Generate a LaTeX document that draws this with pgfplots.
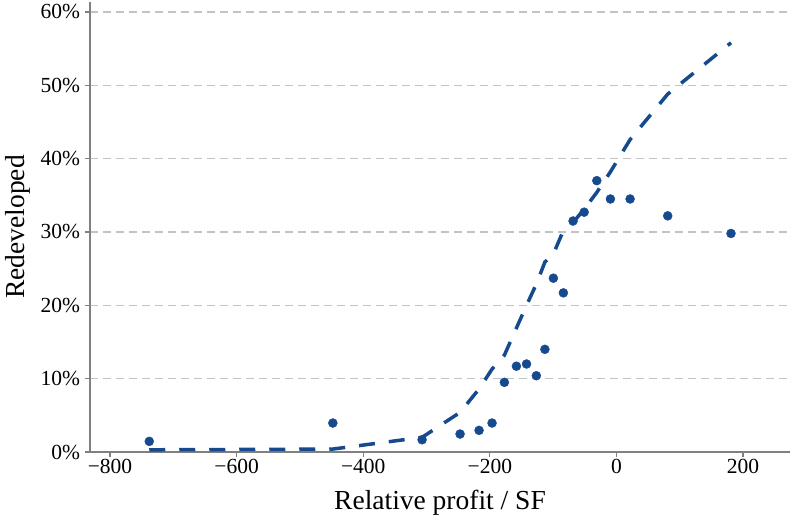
\documentclass[border=0pt]{standalone}
\usepackage{pgfplots}
\pgfplotsset{compat=1.18}
\usepackage{fontspec}
\setmainfont{Liberation Serif}
\definecolor{dblue}{RGB}{22,74,142}
\definecolor{axgray}{RGB}{128,128,128}
\definecolor{gridgray}{RGB}{195,195,195}
\begin{document}
\begin{tikzpicture}
\begin{axis}[
  at={(0pt,0pt)}, anchor=south west,
  scale only axis,
  width=700pt, height=450pt,
  xmin=-831.6, xmax=274.2,
  ymin=0, ymax=61.36,
  axis x line*=bottom, axis y line*=left,
  axis line style={axgray, line width=1.4pt},
  tick align=outside,
  major tick length=5pt,
  tick style={axgray, line width=1.2pt},
  xtick={-800,-600,-400,-200,0,200},
  xticklabels={−800,−600,−400,−200,0,200},
  ytick={0,10,20,30,40,50,60},
  yticklabels={0\%,10\%,20\%,30\%,40\%,50\%,60\%},
  ymajorgrids,
  major grid style={gridgray, line width=1.3pt, dash pattern=on 8pt off 5pt},
  tick label style={font=\fontsize{21.5}{24}\selectfont},
  xticklabel style={yshift=1.5pt},
  yticklabel style={xshift=-1.5pt},
  xlabel={Relative profit / SF},
  ylabel={Redeveloped},
  xlabel style={font=\fontsize{27.5}{30}\selectfont, at={(axis description cs:0.5,0)}, anchor=base, yshift=-57pt},
  ylabel style={font=\fontsize{27.5}{30}\selectfont, at={(axis description cs:0,0.5)}, anchor=base, yshift=65pt},
  clip=false,
]
\addplot[dblue, line width=3.5pt, dash pattern=on 16pt off 14pt] coordinates {
(-738,0.3) (-448,0.4) (-307,2.0) (-247,5.4) (-217,8.6) (-196.5,11.3) (-177,13.2)
(-158,16.9) (-142,20.0) (-126.5,22.9) (-113,25.9) (-99.6,27.0) (-83.8,30.2)
(-68.5,31.3) (-51,33.1) (-31,35.4) (-9.5,38.2) (21.6,42.6) (81,48.8) (181,55.8)
};
\addplot[only marks, mark=*, mark size=4.5pt, dblue, mark options={draw=dblue, fill=dblue}] coordinates {
(-738,1.45) (-448,3.95) (-307,1.67) (-247,2.45) (-217,2.95) (-196.5,3.95) (-177,9.5)
(-158,11.7) (-142,12.0) (-126.5,10.4) (-113,14.0) (-99.6,23.7) (-83.8,21.7)
(-68.5,31.5) (-51,32.7) (-31,37.0) (-9.5,34.5) (21.6,34.5) (81,32.2) (181,29.8)
};
\end{axis}
\pgfresetboundingbox
\useasboundingbox (-90pt,-63pt) rectangle (700pt,452pt);
\end{tikzpicture}
\end{document}
